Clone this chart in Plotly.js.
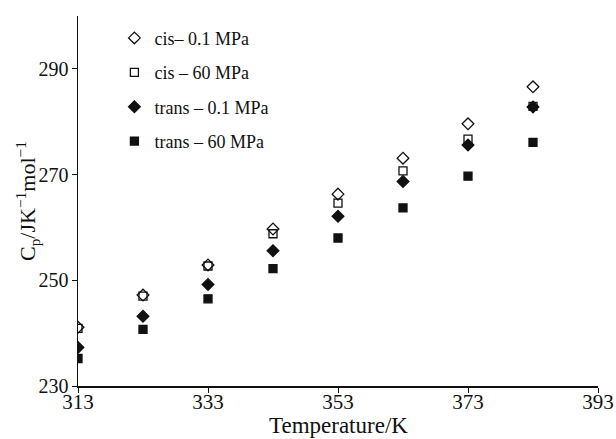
<!DOCTYPE html>
<html>
<head>
<meta charset="utf-8">
<script src="https://cdn.plot.ly/plotly-3.0.1.min.js"></script>
<style>html,body{margin:0;padding:0;background:#fff}#chart{width:616px;height:439px}</style>
</head>
<body>
<div id="chart"></div>
<script>
const temperature = [313, 323, 333, 343, 353, 363, 373, 383];
const cis01 = [241.1, 247.2, 252.9, 259.7, 266.3, 273.1, 279.6, 286.6];
const cis60 = [240.9, 247.0, 252.7, 258.8, 264.6, 270.7, 276.7, 282.9];
const trans01 = [237.3, 243.2, 249.2, 255.6, 262.1, 268.7, 275.6, 282.8];
const trans60 = [235.2, 240.7, 246.5, 252.2, 258.0, 263.7, 269.7, 276.1];
const seriesNames = ['cis\u2013 0.1 MPa', 'cis \u2013 60 MPa', 'trans \u2013 0.1 MPa', 'trans \u2013 60 MPa'];
const xTicks = [313, 333, 353, 373, 393];
const yTicks = [230, 250, 270, 290];
const xTitle = 'Temperature/K';
const yTitle = 'C<sub>p</sub>/JK<sup>\u22121</sup>mol<sup>\u22121</sup>';

const font = '"Liberation Serif", "Times New Roman", serif';
const mk = (sym, size) => ({symbol: sym, size: size, color: '#111', line: {color: '#111', width: 1.3}});
const traces = [
  {x: temperature, y: cis01, name: seriesNames[0], mode: 'markers', marker: mk('diamond-open', 9), legendgroup: 'a'},
  {x: temperature, y: cis60, name: seriesNames[1], mode: 'markers', marker: mk('square-open', 8), legendgroup: 'b'},
  {x: temperature, y: trans01, name: seriesNames[2], mode: 'markers', marker: mk('diamond', 9), legendgroup: 'c'},
  {x: temperature, y: trans60, name: seriesNames[3], mode: 'markers', marker: mk('square', 8), legendgroup: 'd'}
];
const ordered = [traces[3], traces[2], traces[1], traces[0]];
ordered.forEach(t => t.legendrank = seriesNames.indexOf(t.name));

const layout = {
  width: 616, height: 439,
  margin: {l: 78, r: 18, t: 16, b: 53},
  paper_bgcolor: '#fff', plot_bgcolor: '#fff',
  font: {family: font, color: '#111', size: 16},
  showlegend: true,
  legend: {x: 0.07, y: 0.99, xanchor: 'left', yanchor: 'top', bgcolor: 'rgba(0,0,0,0)',
           font: {family: font, size: 18, color: '#111'}, tracegroupgap: 8, traceorder: 'grouped', itemwidth: 30},
  xaxis: {range: [313, 393], tickvals: xTicks, ticktext: xTicks.map(String), ticks: 'outside', ticklen: 5,
          tickcolor: '#111', showline: true, linecolor: '#111', linewidth: 1.5, showgrid: false, zeroline: false,
          ticklabelstandoff: -9,
          tickfont: {family: font, size: 21}},
  yaxis: {range: [230, 300], tickvals: yTicks, ticktext: yTicks.map(String), ticks: 'outside', ticklen: 5,
          tickcolor: '#111', showline: true, linecolor: '#111', linewidth: 1.5, showgrid: false, zeroline: false,
          ticklabelstandoff: -1,
          tickfont: {family: font, size: 20}},
  annotations: [
    {text: xTitle, xref: 'paper', yref: 'paper', x: 0.5, y: -0.106, xanchor: 'center', yanchor: 'middle',
     showarrow: false, font: {family: font, size: 23, color: '#111'}},
    {text: yTitle, xref: 'paper', yref: 'paper', x: -0.098, y: 0.5, xanchor: 'center', yanchor: 'middle',
     textangle: -90, showarrow: false, font: {family: font, size: 22, color: '#111'}}
  ]
};
Plotly.newPlot('chart', ordered, layout, {displayModeBar: false, staticPlot: true});
</script>
</body>
</html>
